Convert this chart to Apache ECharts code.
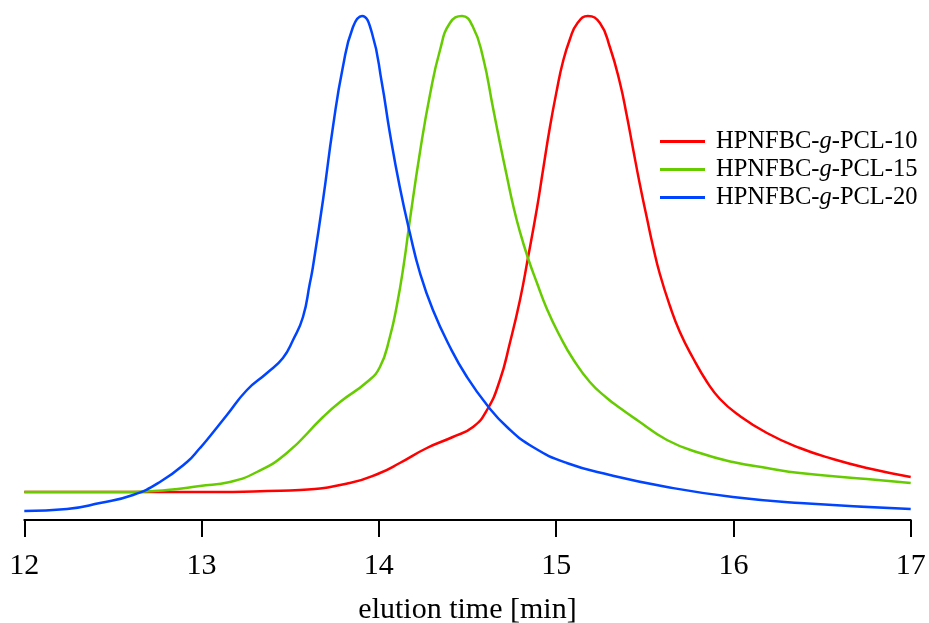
<!DOCTYPE html>
<html>
<head>
<meta charset="utf-8">
<script src="https://cdn.jsdelivr.net/npm/echarts@6/dist/echarts.min.js"></script>
<style>html,body{margin:0;padding:0;background:#fff}#c{width:929px;height:623px}</style>
</head>
<body>
<div id="c"></div>
<script>
// elution time [min] vs. detector response (arbitrary units)
const xTicks = [12, 13, 14, 15, 16, 17];
const seriesNames = ['HPNFBC-g-PCL-10', 'HPNFBC-g-PCL-15', 'HPNFBC-g-PCL-20'];

const pcl10 = [
  [12.0, 28], [12.6, 28], [13.177, 28], [13.369, 29], [13.555, 30], [13.836, 37], [14.006, 47],
  [14.118, 57], [14.271, 72], [14.417, 83], [14.531, 93], [14.610, 110], [14.683, 140],
  [14.739, 177], [14.796, 220], [14.841, 262], [14.892, 312], [14.926, 350], [14.965, 393],
  [15.004, 430], [15.038, 458], [15.078, 481], [15.117, 496], [15.179, 504], [15.247, 497],
  [15.303, 473], [15.360, 437], [15.399, 404], [15.433, 372], [15.473, 335], [15.512, 302],
  [15.546, 274], [15.585, 246], [15.642, 214], [15.698, 188], [15.772, 162], [15.851, 138],
  [15.924, 121], [16.021, 106], [16.189, 87], [16.375, 72], [16.561, 61], [16.753, 52], [17.0, 43]
];

const pcl15 = [
  [12.0, 28], [12.613, 28], [12.805, 30], [12.991, 34], [13.160, 38], [13.312, 48], [13.481, 67],
  [13.685, 103], [13.781, 118], [13.933, 138], [14.006, 153], [14.062, 183], [14.102, 215],
  [14.140, 255], [14.175, 300], [14.232, 368], [14.288, 425], [14.345, 470], [14.401, 497],
  [14.469, 504], [14.531, 493], [14.587, 463], [14.643, 413], [14.683, 377], [14.723, 343],
  [14.757, 315], [14.796, 288], [14.841, 262], [14.892, 237], [14.948, 211], [15.021, 184],
  [15.095, 161], [15.190, 138], [15.286, 122], [15.360, 112], [15.456, 100], [15.625, 80],
  [15.811, 67], [15.997, 58], [16.189, 52], [16.375, 47], [16.753, 41], [17.0, 37]
];

const pcl20 = [
  [12.0, 9], [12.241, 11], [12.427, 17], [12.613, 25], [12.765, 38], [12.918, 58], [12.991, 72],
  [13.030, 80], [13.143, 105], [13.256, 130], [13.369, 147], [13.459, 162], [13.516, 180],
  [13.572, 203], [13.611, 237], [13.628, 253], [13.685, 320], [13.741, 393], [13.797, 453],
  [13.854, 493], [13.905, 504], [13.961, 487], [14.017, 437], [14.062, 387], [14.118, 333],
  [14.175, 287], [14.232, 247], [14.305, 210], [14.401, 173], [14.497, 143], [14.610, 115],
  [14.723, 93], [14.869, 73], [15.060, 57], [15.303, 45], [15.625, 33], [15.997, 23],
  [16.375, 17], [17.0, 11]
];

const colors = ['#ff0000', '#66cc00', '#0044ff'];
const dataSets = [pcl10, pcl15, pcl20];

const chart = echarts.init(document.getElementById('c'), null, {renderer: 'canvas'});
const font = '"Liberation Serif", "Times New Roman", serif';

chart.setOption({
  animation: false,
  backgroundColor: '#fff',
  grid: {left: 24.3, right: 18.3, top: 16, bottom: 103, containLabel: false, outerBoundsMode: 'none'},
  legend: {
    orient: 'vertical',
    left: 660,
    top: 129,
    padding: 0,
    itemWidth: 45,
    itemHeight: 3,
    itemGap: 3,
    icon: 'rect',
    data: seriesNames,
    formatter: function (name) {
      const parts = name.split('-g-');
      return '{n|' + parts[0] + '-}{i|g}{n|-' + parts[1] + '}';
    },
    textStyle: {
      fontFamily: font,
      fontSize: 24.5,
      color: '#000',
      rich: {
        n: {fontFamily: font, fontSize: 24.5, color: '#000', lineHeight: 24.5},
        i: {fontFamily: font, fontSize: 24.5, color: '#000', fontStyle: 'italic', lineHeight: 24.5}
      },
      padding: [0, 0, 0, 6]
    }
  },
  xAxis: {
    type: 'value',
    min: 12,
    max: 17,
    interval: 1,
    name: 'elution time [min]',
    nameLocation: 'middle',
    nameGap: 75,
    nameTextStyle: {fontFamily: font, fontSize: 30, color: '#000'},
    axisLine: {show: true, onZero: false, lineStyle: {color: '#000', width: 2}},
    axisTick: {show: true, inside: false, length: 17, lineStyle: {color: '#000', width: 2}},
    axisLabel: {
      fontFamily: font, fontSize: 30, color: '#000', margin: 31,
      formatter: function (v) { return xTicks.indexOf(v) >= 0 ? String(v) : ''; }
    },
    splitLine: {show: false}
  },
  yAxis: {
    type: 'value',
    min: 0,
    max: 504,
    show: false
  },
  series: dataSets.map(function (d, i) {
    return {
      name: seriesNames[i],
      type: 'line',
      data: d,
      smooth: 0.5,
      showSymbol: false,
      clip: false,
      color: colors[i],
      lineStyle: {color: colors[i], width: 2.5}
    };
  })
});
</script>
</body>
</html>
